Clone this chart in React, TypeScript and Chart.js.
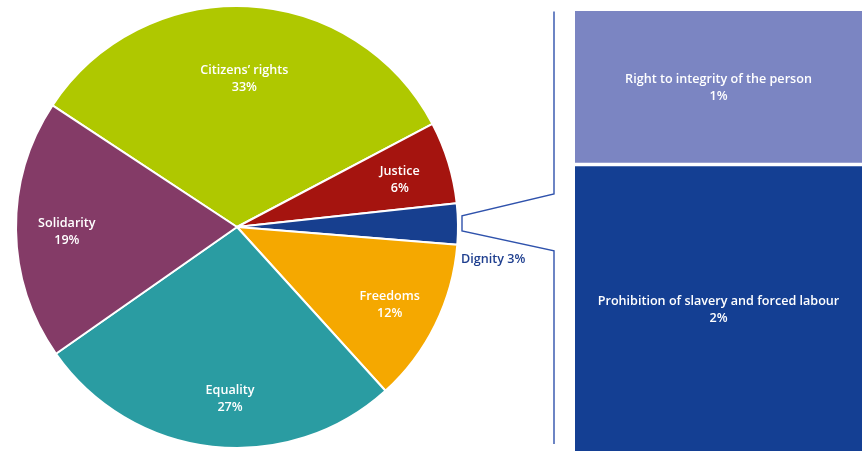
import React, { useEffect, useRef } from 'react';
import { Chart, registerables } from 'chart.js';
Chart.register(...registerables);

const categories = ['Citizens’ rights', 'Justice', 'Dignity', 'Freedoms', 'Equality', 'Solidarity'];
const shares = [33, 6, 3, 12, 27, 19];
const sliceColors = ['#AFC800', '#A5140F', '#173F8F', '#F5A800', '#2A9CA2', '#843B67'];
const dignityParts = ['Prohibition of slavery and forced labour', 'Right to integrity of the person'];
const dignityShares = [1.94, 1.06];
const dignityShareLabels = ['2%', '1%'];
const partColors = ['#143F93', '#7B85C2'];

const FONT = "'Open Sans', 'Noto Sans', sans-serif";
const FONT_SIZE = 12.6;
const W = 863;
const H = 455;

const pieLabels = {
  id: 'pieLabels',
  afterDatasetsDraw(chart: any) {
    const ctx = chart.ctx;
    const meta = chart.getDatasetMeta(0);
    ctx.save();
    ctx.font = `600 ${FONT_SIZE}px ${FONT}`;
    ctx.textAlign = 'center';
    ctx.textBaseline = 'middle';
    meta.data.forEach((arc: any, i: number) => {
      const { x, y, startAngle, endAngle, outerRadius } = arc.getProps(['x', 'y', 'startAngle', 'endAngle', 'outerRadius'], true);
      const mid = (startAngle + endAngle) / 2;
      if (categories[i] === 'Dignity') {
        // bracket linking the slice to the breakdown bars
        const my = y + outerRadius * Math.sin(mid);
        const xl = x + outerRadius + 4;
        const xr = x + outerRadius + 96;
        ctx.strokeStyle = '#2F52AC';
        ctx.lineWidth = 1.4;
        ctx.beginPath();
        ctx.moveTo(xr, y - outerRadius + 5.5);
        ctx.lineTo(xr, my - 30);
        ctx.lineTo(xl, my - 8);
        ctx.lineTo(xl, my + 7);
        ctx.lineTo(xr, my + 27);
        ctx.lineTo(xr, y + outerRadius - 4);
        ctx.stroke();
        ctx.fillStyle = '#1F3F8F';
        ctx.textAlign = 'left';
        ctx.fillText(`${categories[i]} ${shares[i]}%`, xl - 1, my + 35);
        ctx.textAlign = 'center';
        return;
      }
      const f = i === 0 ? 0.68 : 0.77;
      // small best-fit nudge like the original for the wide bottom slice
      const nudgeX = categories[i] === 'Equality' ? 12 : 0;
      const lx = x + outerRadius * f * Math.cos(mid) + nudgeX;
      const ly = y + outerRadius * f * Math.sin(mid) + 2.5;
      ctx.fillStyle = '#FFFFFF';
      ctx.fillText(categories[i], lx, ly - 8.5);
      ctx.fillText(`${shares[i]}%`, lx, ly + 8.5);
    });
    ctx.restore();
  },
};

const barLabels = {
  id: 'barLabels',
  afterDatasetsDraw(chart: any) {
    const ctx = chart.ctx;
    ctx.save();
    ctx.font = `600 ${FONT_SIZE}px ${FONT}`;
    ctx.textAlign = 'center';
    ctx.textBaseline = 'middle';
    ctx.fillStyle = '#FFFFFF';
    chart.data.datasets.forEach((ds: any, i: number) => {
      const bar: any = chart.getDatasetMeta(i).data[0];
      const { x, y, base } = bar.getProps(['x', 'y', 'base'], true);
      const bw = ds.borderWidth && typeof ds.borderWidth === 'object' ? ds.borderWidth.bottom || 0 : 0;
      const cy = (y + base - bw) / 2 + 1;
      ctx.fillText(dignityParts[i], x, cy - 8.5);
      ctx.fillText(dignityShareLabels[i], x, cy + 8.5);
    });
    ctx.restore();
  },
};

export default function App() {
  const pieRef = useRef<HTMLCanvasElement>(null);
  const barRef = useRef<HTMLCanvasElement>(null);

  useEffect(() => {
    const pie = new Chart(pieRef.current!, {
      type: 'pie',
      data: {
        labels: categories,
        datasets: [
          {
            data: shares,
            backgroundColor: sliceColors,
            borderColor: '#FFFFFF',
            borderWidth: 2,
          },
        ],
      },
      options: {
        responsive: false,
        animation: false,
        devicePixelRatio: 1,
        rotation: 303.4,
        layout: { padding: { left: 15, top: 5, right: W - 459, bottom: H - 449 } },
        plugins: { legend: { display: false }, tooltip: { enabled: false } },
      },
      plugins: [pieLabels],
    });

    const bar = new Chart(barRef.current!, {
      type: 'bar',
      data: {
        labels: ['Dignity'],
        datasets: [
          {
            label: dignityParts[0],
            data: [dignityShares[0]],
            backgroundColor: partColors[0],
            borderWidth: 0,
            barPercentage: 1,
            categoryPercentage: 1,
          },
          {
            label: dignityParts[1],
            data: [dignityShares[1]],
            backgroundColor: partColors[1],
            borderColor: '#FFFFFF',
            borderWidth: { top: 0, right: 0, bottom: 4, left: 0 },
            borderSkipped: false,
            barPercentage: 1,
            categoryPercentage: 1,
          },
        ],
      },
      options: {
        responsive: false,
        animation: false,
        devicePixelRatio: 1,
        layout: { padding: 0 },
        scales: {
          x: { stacked: true, display: false },
          y: { stacked: true, display: false, min: 0, max: 3 },
        },
        plugins: { legend: { display: false }, tooltip: { enabled: false } },
      },
      plugins: [barLabels],
    });

    return () => {
      pie.destroy();
      bar.destroy();
    };
  }, []);

  return (
    <div style={{ position: 'fixed', left: 0, top: 0, width: W, height: H, background: '#FFFFFF' }}>
      <canvas
        ref={pieRef}
        width={W}
        height={H}
        style={{ position: 'absolute', left: 0, top: 0, width: W, height: H }}
      />
      <canvas
        ref={barRef}
        width={287}
        height={440}
        style={{ position: 'absolute', left: 575, top: 11, width: 287, height: 440 }}
      />
    </div>
  );
}
